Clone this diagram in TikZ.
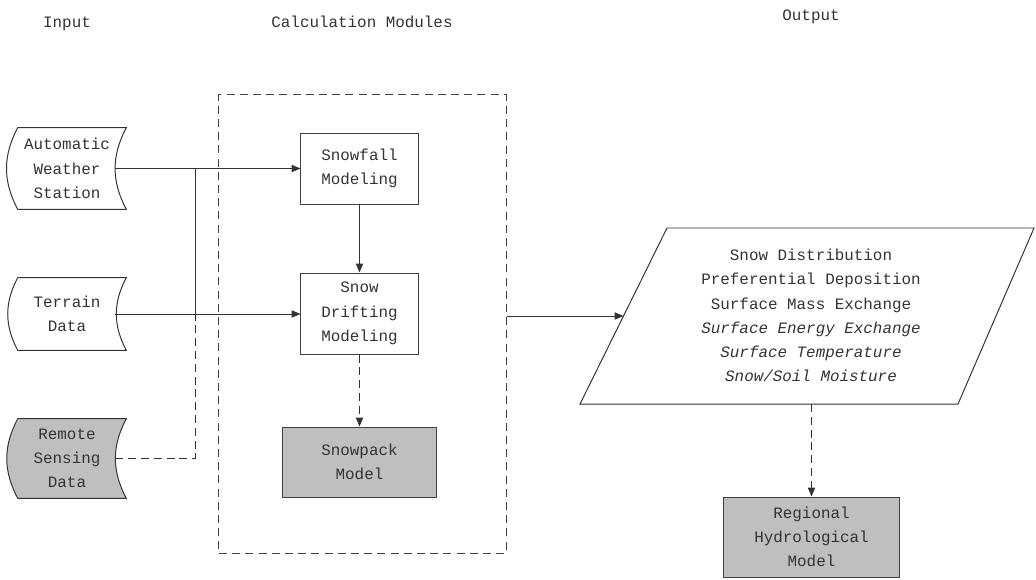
\documentclass[tikz,border=0pt]{standalone}
\usepackage{fontspec}
\setmainfont{Liberation Mono}
\usetikzlibrary{arrows.meta,calc,backgrounds}
\tikzset{
  base/.style={font=\fontsize{11.3}{17.2}\selectfont, text=black!80, align=center, inner sep=0pt},
  box/.style={base, draw=black!75, line width=0.7pt, minimum width=2.925cm},
  grey/.style={fill=black!25},
  store/.style={base, minimum width=2.7cm},
  hdr/.style={base},
  link/.style={draw=black!80, line width=0.6pt},
  arr/.style={link, -{Triangle[length=2.2mm,width=1.8mm]}},
  dashlink/.style={link, dash pattern=on 0.2cm off 0.12cm},
}
\begin{document}
\begin{tikzpicture}[x=0.025cm,y=-0.025cm]
\useasboundingbox (0,0) rectangle (1036,579);

% headings
\node[hdr] (hin) at (67,24) {Input};
\node[hdr] (hcalc) at (362,22) {Calculation Modules};
\node[hdr] (hout) at (811,17) {Output};

% input data
\node[store, minimum height=2.025cm] (aws) at (67,168.5) {Automatic\\Weather\\Station};
\node[store, minimum height=1.8cm] (terrain) at (67,314) {Terrain\\Data};
\node[store, minimum height=1.975cm] (remote) at (67,458.5) {Remote\\Sensing\\Data};
\begin{scope}[on background layer]
\foreach \n/\f in {aws/white,terrain/white,remote/black!25}
  \draw[link, line width=0.7pt, fill=\f] ($(\n.north west)+(5,0)$) -- ($(\n.north east)+(5,0)$)
    to[bend right=28] ($(\n.south east)+(5,0)$) -- ($(\n.south west)+(5,0)$)
    to[bend left=28] ($(\n.north west)+(5,0)$);
\end{scope}

% calculation modules
\node[draw=black!75, line width=0.7pt, dash pattern=on 0.2cm off 0.13cm,
  minimum width=7.175cm, minimum height=11.45cm] (calc) at (362.5,324) {};
\node[box, minimum height=1.775cm] (snowfall) at (359.5,168.5) {Snowfall\\Modeling};
\node[box, minimum height=2.025cm] (drift) at (359.5,313.5) {Snow\\Drifting\\Modeling};
\node[box, grey, minimum width=3.825cm, minimum height=1.75cm] (snowpack) at (359.5,462) {Snowpack\\Model};

% output
\coordinate (resA) at (580,404);
\coordinate (resB) at (667,228);
\coordinate (resC) at (1034,228);
\coordinate (resD) at (958,404);
\draw[link, line width=0.7pt] (resA) -- (resB) -- (resC) -- (resD) -- cycle;
\node[base] (res) at (811,315.5) {Snow Distribution\\Preferential Deposition\\Surface Mass Exchange\\
  {\itshape Surface Energy Exchange}\\{\itshape Surface Temperature}\\{\itshape Snow/Soil Moisture}};
\coordinate (resW) at (623.5,316);
\coordinate (resS) at (811.5,404);
\node[box, grey, minimum width=4.375cm, minimum height=2cm] (hydro) at (811.5,537) {Regional\\Hydrological\\Model};

% connectors
\coordinate (jtop) at (195,168.5);
\coordinate (jmid) at (195,314);
\coordinate (jbot) at (195,458.5);
\draw[arr] ($(aws.east)+(-6,0)$) -- (snowfall.west);
\draw[arr] ($(terrain.east)+(-6,0)$) -- (drift.west |- terrain);
\draw[link] (jtop) -- (jmid);
\draw[dashlink] ($(remote.east)+(-6,0)$) -- (jbot) -- (jmid);
\draw[arr] (snowfall) -- (drift);
\draw[arr, dashlink] (drift) -- (snowpack);
\draw[arr] (calc.east |- resW) -- (resW);
\draw[arr, dashlink] (resS) -- (hydro);
\end{tikzpicture}
\end{document}
